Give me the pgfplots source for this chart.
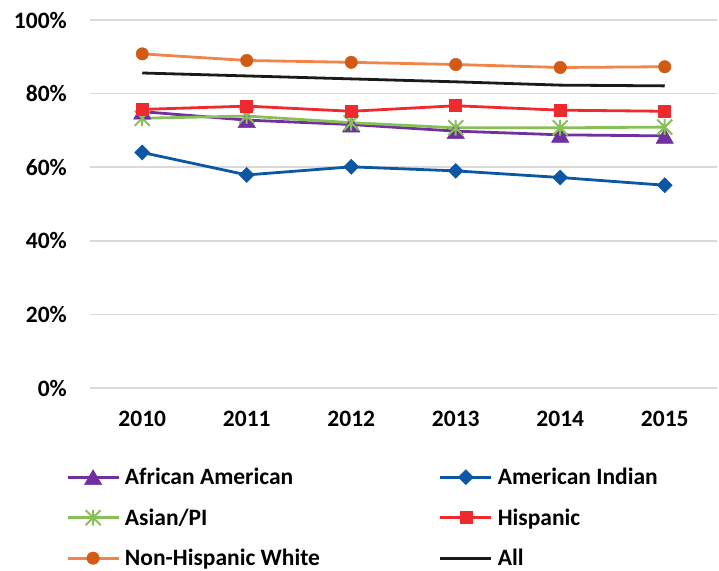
\documentclass[border=0pt]{standalone}
\usepackage{pgfplots}
\pgfplotsset{compat=1.18}
\usepackage{fontspec}
\setmainfont{Carlito}
\definecolor{cPurple}{HTML}{7030A0}
\definecolor{cBlue}{HTML}{0B57A4}
\definecolor{cGreen}{HTML}{88C057}
\definecolor{cRed}{HTML}{EE2A2E}
\definecolor{cOrange}{HTML}{EF8549}
\definecolor{cOrangeD}{HTML}{D35A14}
\definecolor{cBlack}{HTML}{1A1A1A}
\definecolor{gridgray}{HTML}{D9D9D9}
\pgfdeclareplotmark{xstar}{%
  \pgfpathmoveto{\pgfqpoint{-\pgfplotmarksize}{-\pgfplotmarksize}}%
  \pgfpathlineto{\pgfqpoint{\pgfplotmarksize}{\pgfplotmarksize}}%
  \pgfpathmoveto{\pgfqpoint{-\pgfplotmarksize}{\pgfplotmarksize}}%
  \pgfpathlineto{\pgfqpoint{\pgfplotmarksize}{-\pgfplotmarksize}}%
  \pgfpathmoveto{\pgfqpoint{0pt}{-1.05\pgfplotmarksize}}%
  \pgfpathlineto{\pgfqpoint{0pt}{1.05\pgfplotmarksize}}%
  \pgfusepathqstroke}
\newcommand{\lfont}{\fontsize{23.5bp}{28bp}\selectfont\bfseries}
\begin{document}
\begin{tikzpicture}
\begin{axis}[
  at={(0bp,0bp)}, anchor=south west,
  scale only axis, width=627bp, height=368bp,
  xmin=-0.5, xmax=5.5, ymin=0, ymax=100,
  xtick={0,1,2,3,4,5}, xticklabels={2010,2011,2012,2013,2014,2015},
  ytick={0,20,40,60,80,100},
  yticklabel={\pgfmathprintnumber{\tick}\%},
  /pgf/number format/assume math mode=true,
  tick style={draw=none},
  axis line style={draw=none},
  ymajorgrids, grid style={color=gridgray, line width=1.5bp},
  ticklabel style={font=\lfont, inner sep=0pt},
  yticklabel style={anchor=east, xshift=-23bp},
  xticklabel style={anchor=center, yshift=-31bp},
  legend columns=2, legend cell align=left,
  legend style={at={(0,0)}, anchor=north west, xshift=-24bp, yshift=-80bp,
    draw=none, fill=none, inner sep=0pt, font=\lfont, row sep=22.5bp,
    nodes={inner sep=0pt},
    /tikz/every odd column/.append style={column sep=5bp},
    /tikz/every even column/.append style={column sep=119bp}},
  legend image code/.code={\draw[mark repeat=2, mark phase=2] plot coordinates {(0bp,0bp) (25.5bp,0bp) (51bp,0bp)};},
  clip=false,
]
\addplot[cPurple, line width=2.8bp, mark=triangle*, mark size=10bp, mark options={fill=cPurple, draw=cPurple, line width=0.5bp, yshift=-2.5bp}]
  coordinates {(0,75.1) (1,72.8) (2,71.6) (3,69.8) (4,68.8) (5,68.5)};
\addlegendentry{African American}
\addplot[cBlue, line width=2.8bp, mark=square*, mark size=5.3bp, mark options={fill=cBlue, draw=cBlue, line width=0.5bp, rotate=45}]
  coordinates {(0,64.0) (1,57.9) (2,60.1) (3,59.0) (4,57.2) (5,55.1)};
\addlegendentry{American Indian}
\addplot[cGreen, line width=2.8bp, mark=xstar, mark size=7.5bp, mark options={draw=cGreen, line width=2bp}]
  coordinates {(0,73.3) (1,73.9) (2,72.1) (3,70.7) (4,70.7) (5,70.9)};
\addlegendentry{Asian/PI}
\addplot[cRed, line width=2.8bp, mark=square*, mark size=6bp, mark options={fill=cRed, draw=cRed, line width=0.5bp}]
  coordinates {(0,75.7) (1,76.6) (2,75.2) (3,76.7) (4,75.5) (5,75.2)};
\addlegendentry{Hispanic}
\addplot[cOrange, line width=2.8bp, mark=*, mark size=6.2bp, mark options={fill=cOrangeD, draw=cOrangeD, line width=0.5bp}]
  coordinates {(0,90.8) (1,89.0) (2,88.5) (3,87.9) (4,87.1) (5,87.3)};
\addlegendentry{Non-Hispanic White}
\addplot[cBlack, line width=2.8bp]
  coordinates {(0,85.6) (1,84.8) (2,84.0) (3,83.2) (4,82.3) (5,82.1)};
\addlegendentry{All}
\end{axis}
\path (-90bp,-183bp) rectangle (629bp,388bp);
\end{tikzpicture}
\end{document}
